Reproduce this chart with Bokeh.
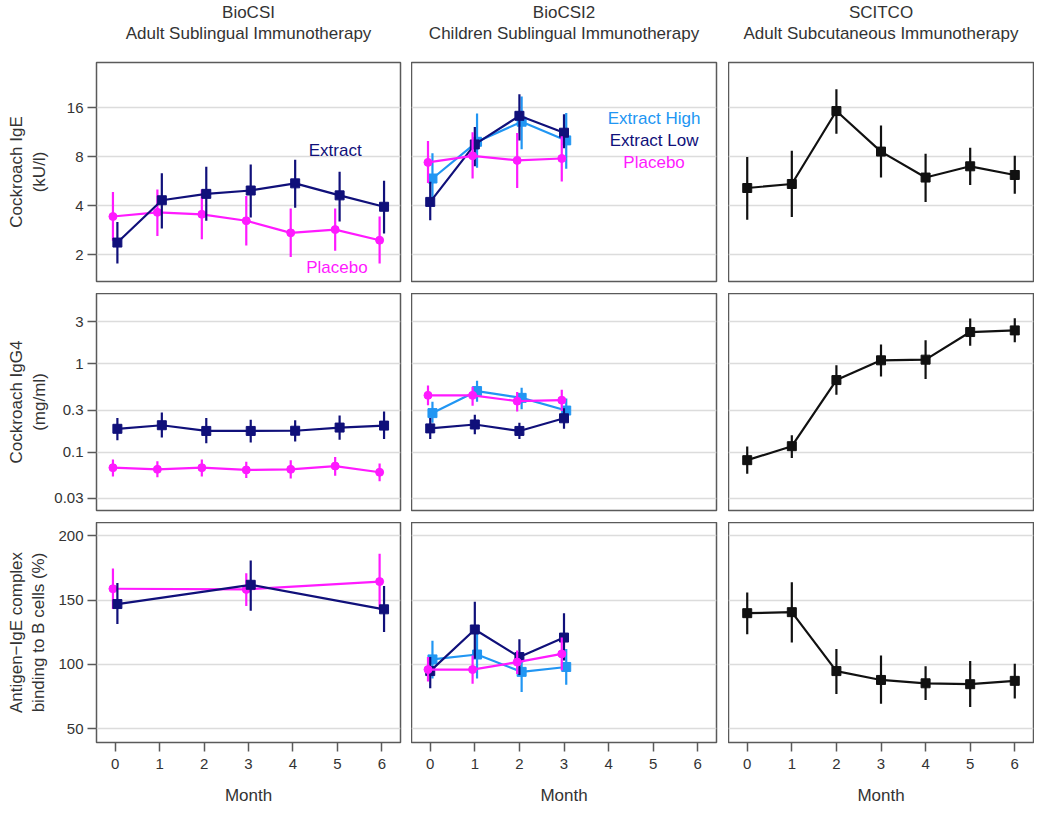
from bokeh.plotting import figure
from bokeh.layouts import gridplot
from bokeh.models import FixedTicker, Label, Range1d, Title
from bokeh.embed import file_html
from bokeh.resources import INLINE

# ---------------- data ----------------
months_all = [0, 1, 2, 3, 4, 5, 6]
months_biocsi2 = [0, 1, 2, 3]
months_bcell_biocsi = [0, 3, 6]

# Row 1: Cockroach IgE (kU/l)
ige_biocsi_extract = [2.38, 4.33, 4.74, 4.97, 5.50, 4.64, 3.95]
ige_biocsi_extract_lo = [1.77, 2.90, 3.24, 3.39, 3.90, 3.21, 2.71]
ige_biocsi_extract_hi = [3.18, 6.34, 6.95, 7.17, 7.69, 6.49, 5.70]
ige_biocsi_placebo = [3.44, 3.65, 3.55, 3.24, 2.73, 2.86, 2.46]
ige_biocsi_placebo_lo = [2.44, 2.61, 2.49, 2.28, 1.94, 2.12, 1.77]
ige_biocsi_placebo_hi = [4.86, 5.04, 5.04, 4.60, 3.86, 3.86, 3.44]

ige_b2_high = [5.89, 9.90, 13.16, 10.10]
ige_b2_high_lo = [4.43, 6.85, 8.90, 6.76]
ige_b2_high_hi = [8.43, 14.75, 18.80, 14.90]
ige_b2_low = [4.23, 9.54, 14.30, 11.26]
ige_b2_low_lo = [3.26, 7.00, 10.10, 9.03]
ige_b2_low_hi = [5.62, 12.20, 19.40, 14.60]
ige_b2_placebo = [7.40, 8.12, 7.61, 7.82]
ige_b2_placebo_lo = [5.52, 5.89, 5.15, 5.65]
ige_b2_placebo_hi = [10.00, 11.35, 11.20, 10.70]

ige_scitco = [5.15, 5.45, 15.30, 8.62, 5.97, 7.00, 6.19]
ige_scitco_lo = [3.29, 3.42, 11.10, 5.97, 4.23, 5.37, 4.74]
ige_scitco_hi = [7.98, 8.73, 20.80, 12.45, 8.35, 9.10, 8.12]

# Row 2: Cockroach IgG4 (mg/ml)
igg4_biocsi_extract = [0.184, 0.202, 0.174, 0.174, 0.175, 0.190, 0.200]
igg4_biocsi_extract_lo = [0.137, 0.147, 0.126, 0.129, 0.132, 0.138, 0.141]
igg4_biocsi_extract_hi = [0.244, 0.281, 0.244, 0.233, 0.230, 0.261, 0.289]
igg4_biocsi_placebo = [0.0668, 0.0640, 0.0668, 0.0630, 0.0640, 0.0697, 0.0593]
igg4_biocsi_placebo_lo = [0.0532, 0.0520, 0.0532, 0.0510, 0.0505, 0.0540, 0.0469]
igg4_biocsi_placebo_hi = [0.0826, 0.0790, 0.0826, 0.0778, 0.0810, 0.0883, 0.0745]

igg4_b2_high = [0.277, 0.492, 0.412, 0.296]
igg4_b2_high_lo = [0.215, 0.372, 0.306, 0.233]
igg4_b2_high_hi = [0.372, 0.643, 0.535, 0.405]
igg4_b2_low = [0.186, 0.206, 0.174, 0.242]
igg4_b2_low_lo = [0.141, 0.160, 0.141, 0.184]
igg4_b2_low_hi = [0.244, 0.265, 0.215, 0.314]
igg4_b2_placebo = [0.440, 0.440, 0.378, 0.388]
igg4_b2_placebo_lo = [0.341, 0.335, 0.289, 0.293]
igg4_b2_placebo_hi = [0.567, 0.550, 0.479, 0.508]

igg4_scitco = [0.0813, 0.117, 0.655, 1.096, 1.115, 2.29, 2.39]
igg4_scitco_lo = [0.057, 0.0861, 0.448, 0.719, 0.672, 1.60, 1.75]
igg4_scitco_hi = [0.116, 0.156, 0.966, 1.66, 1.85, 3.26, 3.29]

# Row 3: Antigen-IgE complex binding to B cells (%)
bc_biocsi_extract = [146.9, 161.9, 142.8]
bc_biocsi_extract_lo = [131.4, 141.6, 125.1]
bc_biocsi_extract_hi = [163.2, 180.9, 160.9]
bc_biocsi_placebo = [158.8, 158.3, 164.4]
bc_biocsi_placebo_lo = [143.1, 145.4, 142.3]
bc_biocsi_placebo_hi = [174.6, 170.8, 186.0]

bc_b2_high = [103.8, 107.6, 94.1, 97.9]
bc_b2_high_lo = [89.0, 89.0, 78.4, 84.0]
bc_b2_high_hi = [118.3, 125.9, 109.4, 111.9]
bc_b2_low = [94.7, 127.1, 105.6, 120.8]
bc_b2_low_lo = [81.4, 104.3, 91.6, 103.0]
bc_b2_low_hi = [105.6, 148.7, 119.5, 139.8]
bc_b2_placebo = [95.9, 95.9, 101.7, 108.1]
bc_b2_placebo_lo = [86.5, 84.8, 92.4, 95.4]
bc_b2_placebo_hi = [105.6, 106.8, 110.7, 120.8]

bc_scitco = [139.8, 140.6, 94.7, 87.8, 85.2, 84.5, 87.1]
bc_scitco_lo = [123.3, 117.0, 76.9, 69.3, 72.1, 66.7, 73.4]
bc_scitco_hi = [155.8, 163.9, 111.9, 106.8, 98.5, 102.5, 100.5]

study_names = ["BioCSI", "BioCSI2", "SCITCO"]
study_subtitles = ["Adult Sublingual Immunotherapy",
                   "Children Sublingual Immunotherapy",
                   "Adult Subcutaneous Immunotherapy"]
row_labels = ["Cockroach IgE\n(kU/l)", "Cockroach IgG4\n(mg/ml)",
              "Antigen\u2212IgE complex\nbinding to B cells (%)"]
row_ticks = [[2, 4, 8, 16], [0.03, 0.1, 0.3, 1, 3], [50, 100, 150, 200]]
row_tick_labels = [["2", "4", "8", "16"], ["0.03", "0.1", "0.3", "1", "3"],
                   ["50", "100", "150", "200"]]
x_ticks = [0, 1, 2, 3, 4, 5, 6]
x_label = "Month"

# ---------------- style ----------------
FONT = "Liberation Sans"
NAVY = "#10107a"
LIGHT = "#2196f3"
MAGENTA = "#ff1aff"
BLACK = "#111111"
TXT = "#333333"

frame_w = [304, 305, 305]
frame_h = [219, 217, 220]
border_l = [96, 0, 0]
border_r = [11, 12, 1]
border_t = [60, 0, 0]
border_b = [12, 12, 60]
y_ranges = [(1.372, 30.4), (0.0219, 6.25), (39.1, 210.4)]
x_range = (-0.42, 6.42)
ylabel_standoff = [15, 2, 7]


def add_series(p, x, y, lo, hi, color, marker, size, offset=0.0):
    xs = [m + offset for m in x]
    p.segment(x0=xs, y0=lo, x1=xs, y1=hi, line_color=color, line_width=2.2)
    p.line(xs, y, line_color=color, line_width=2.2)
    p.scatter(xs, y, marker=marker, size=size, fill_color=color, line_color=color)


def make_fig(r, c):
    p = figure(frame_width=frame_w[c], frame_height=frame_h[r],
               x_range=Range1d(*x_range), y_range=Range1d(*y_ranges[r]),
               y_axis_type="log" if r < 2 else "linear",
               output_backend="svg", toolbar_location=None,
               min_border_left=border_l[c], min_border_right=border_r[c],
               min_border_top=border_t[r], min_border_bottom=border_b[r],
               background_fill_color="white", border_fill_color="white")
    p.outline_line_color = "#5a5a5a"
    p.outline_line_width = 1.5
    p.xgrid.visible = False
    p.ygrid.ticker = FixedTicker(ticks=row_ticks[r])
    p.ygrid.grid_line_color = "#dcdcdc"
    p.ygrid.grid_line_width = 1.5

    yax = p.yaxis[0]
    if c == 0:
        yax.ticker = FixedTicker(ticks=row_ticks[r])
        yax.major_label_overrides = {t: l for t, l in zip(row_ticks[r], row_tick_labels[r])}
        yax.axis_line_color = None
        yax.major_tick_in = 0
        yax.major_tick_out = 9
        yax.major_tick_line_color = "#5a5a5a"
        yax.major_tick_line_width = 1.5
        yax.minor_tick_line_color = None
        yax.major_label_standoff = 4
        yax.major_label_text_font = FONT
        yax.major_label_text_font_size = "15px"
        yax.major_label_text_color = TXT
        yax.axis_label = row_labels[r]
        yax.axis_label_text_font = FONT
        yax.axis_label_text_font_size = "17px"
        yax.axis_label_text_font_style = "normal"
        yax.axis_label_text_color = TXT
        yax.axis_label_standoff = ylabel_standoff[r]
    else:
        yax.visible = False

    xax = p.xaxis[0]
    if r == 2:
        xax.ticker = FixedTicker(ticks=x_ticks)
        xax.axis_line_color = None
        xax.major_tick_in = 0
        xax.major_tick_out = 9
        xax.major_tick_line_color = "#5a5a5a"
        xax.major_tick_line_width = 1.5
        xax.minor_tick_line_color = None
        xax.major_label_standoff = 7
        xax.major_label_text_font = FONT
        xax.major_label_text_font_size = "15px"
        xax.major_label_text_color = TXT
        xax.axis_label = x_label
        xax.axis_label_text_font = FONT
        xax.axis_label_text_font_size = "17px"
        xax.axis_label_text_font_style = "normal"
        xax.axis_label_text_color = TXT
        xax.axis_label_standoff = 14
    else:
        xax.visible = False

    if r == 0:
        # outermost: study name; then therapy description; then a blank spacer
        p.title.text = study_names[c]
        p.title.align = "center"
        p.title.text_font = FONT
        p.title.text_font_size = "17px"
        p.title.text_font_style = "normal"
        p.title.text_color = TXT
        p.title.standoff = 0
        p.add_layout(Title(text=" ", text_font_size="2px", standoff=16), "above")
        p.add_layout(Title(text=study_subtitles[c], align="center", text_font=FONT,
                           text_font_size="17px", text_font_style="normal",
                           text_color=TXT, standoff=0), "above")
    return p


def text_label(p, x, y, txt, color):
    p.add_layout(Label(x=x, y=y, text=txt, text_color=color, text_font=FONT,
                       text_font_size="17px", text_align="center",
                       text_baseline="middle"))


figs = [[make_fig(r, c) for c in range(3)] for r in range(3)]

# BioCSI column (placebo offset left, extract offset right)
add_series(figs[0][0], months_all, ige_biocsi_placebo, ige_biocsi_placebo_lo, ige_biocsi_placebo_hi, MAGENTA, "circle", 8, -0.05)
add_series(figs[0][0], months_all, ige_biocsi_extract, ige_biocsi_extract_lo, ige_biocsi_extract_hi, NAVY, "square", 9, 0.05)
add_series(figs[1][0], months_all, igg4_biocsi_placebo, igg4_biocsi_placebo_lo, igg4_biocsi_placebo_hi, MAGENTA, "circle", 8, -0.05)
add_series(figs[1][0], months_all, igg4_biocsi_extract, igg4_biocsi_extract_lo, igg4_biocsi_extract_hi, NAVY, "square", 9, 0.05)
add_series(figs[2][0], months_bcell_biocsi, bc_biocsi_placebo, bc_biocsi_placebo_lo, bc_biocsi_placebo_hi, MAGENTA, "circle", 8, -0.05)
add_series(figs[2][0], months_bcell_biocsi, bc_biocsi_extract, bc_biocsi_extract_lo, bc_biocsi_extract_hi, NAVY, "square", 9, 0.05)

# BioCSI2 column
add_series(figs[0][1], months_biocsi2, ige_b2_high, ige_b2_high_lo, ige_b2_high_hi, LIGHT, "square", 9, 0.05)
add_series(figs[0][1], months_biocsi2, ige_b2_low, ige_b2_low_lo, ige_b2_low_hi, NAVY, "square", 9, 0.0)
add_series(figs[0][1], months_biocsi2, ige_b2_placebo, ige_b2_placebo_lo, ige_b2_placebo_hi, MAGENTA, "circle", 8, -0.05)
add_series(figs[1][1], months_biocsi2, igg4_b2_high, igg4_b2_high_lo, igg4_b2_high_hi, LIGHT, "square", 9, 0.05)
add_series(figs[1][1], months_biocsi2, igg4_b2_low, igg4_b2_low_lo, igg4_b2_low_hi, NAVY, "square", 9, 0.0)
add_series(figs[1][1], months_biocsi2, igg4_b2_placebo, igg4_b2_placebo_lo, igg4_b2_placebo_hi, MAGENTA, "circle", 8, -0.05)
add_series(figs[2][1], months_biocsi2, bc_b2_high, bc_b2_high_lo, bc_b2_high_hi, LIGHT, "square", 9, 0.05)
add_series(figs[2][1], months_biocsi2, bc_b2_low, bc_b2_low_lo, bc_b2_low_hi, NAVY, "square", 9, 0.0)
add_series(figs[2][1], months_biocsi2, bc_b2_placebo, bc_b2_placebo_lo, bc_b2_placebo_hi, MAGENTA, "circle", 8, -0.05)

# SCITCO column
add_series(figs[0][2], months_all, ige_scitco, ige_scitco_lo, ige_scitco_hi, BLACK, "square", 9)
add_series(figs[1][2], months_all, igg4_scitco, igg4_scitco_lo, igg4_scitco_hi, BLACK, "square", 9)
add_series(figs[2][2], months_all, bc_scitco, bc_scitco_lo, bc_scitco_hi, BLACK, "square", 9)

# in-panel legends
text_label(figs[0][0], 4.95, 8.7, "Extract", NAVY)
text_label(figs[0][0], 4.99, 1.67, "Placebo", MAGENTA)
text_label(figs[0][1], 5.02, 13.7, "Extract High", LIGHT)
text_label(figs[0][1], 5.02, 10.06, "Extract Low", NAVY)
text_label(figs[0][1], 5.02, 7.38, "Placebo", MAGENTA)

grid = gridplot(figs, toolbar_location=None)
open("out.html", "w").write(file_html(grid, INLINE))
